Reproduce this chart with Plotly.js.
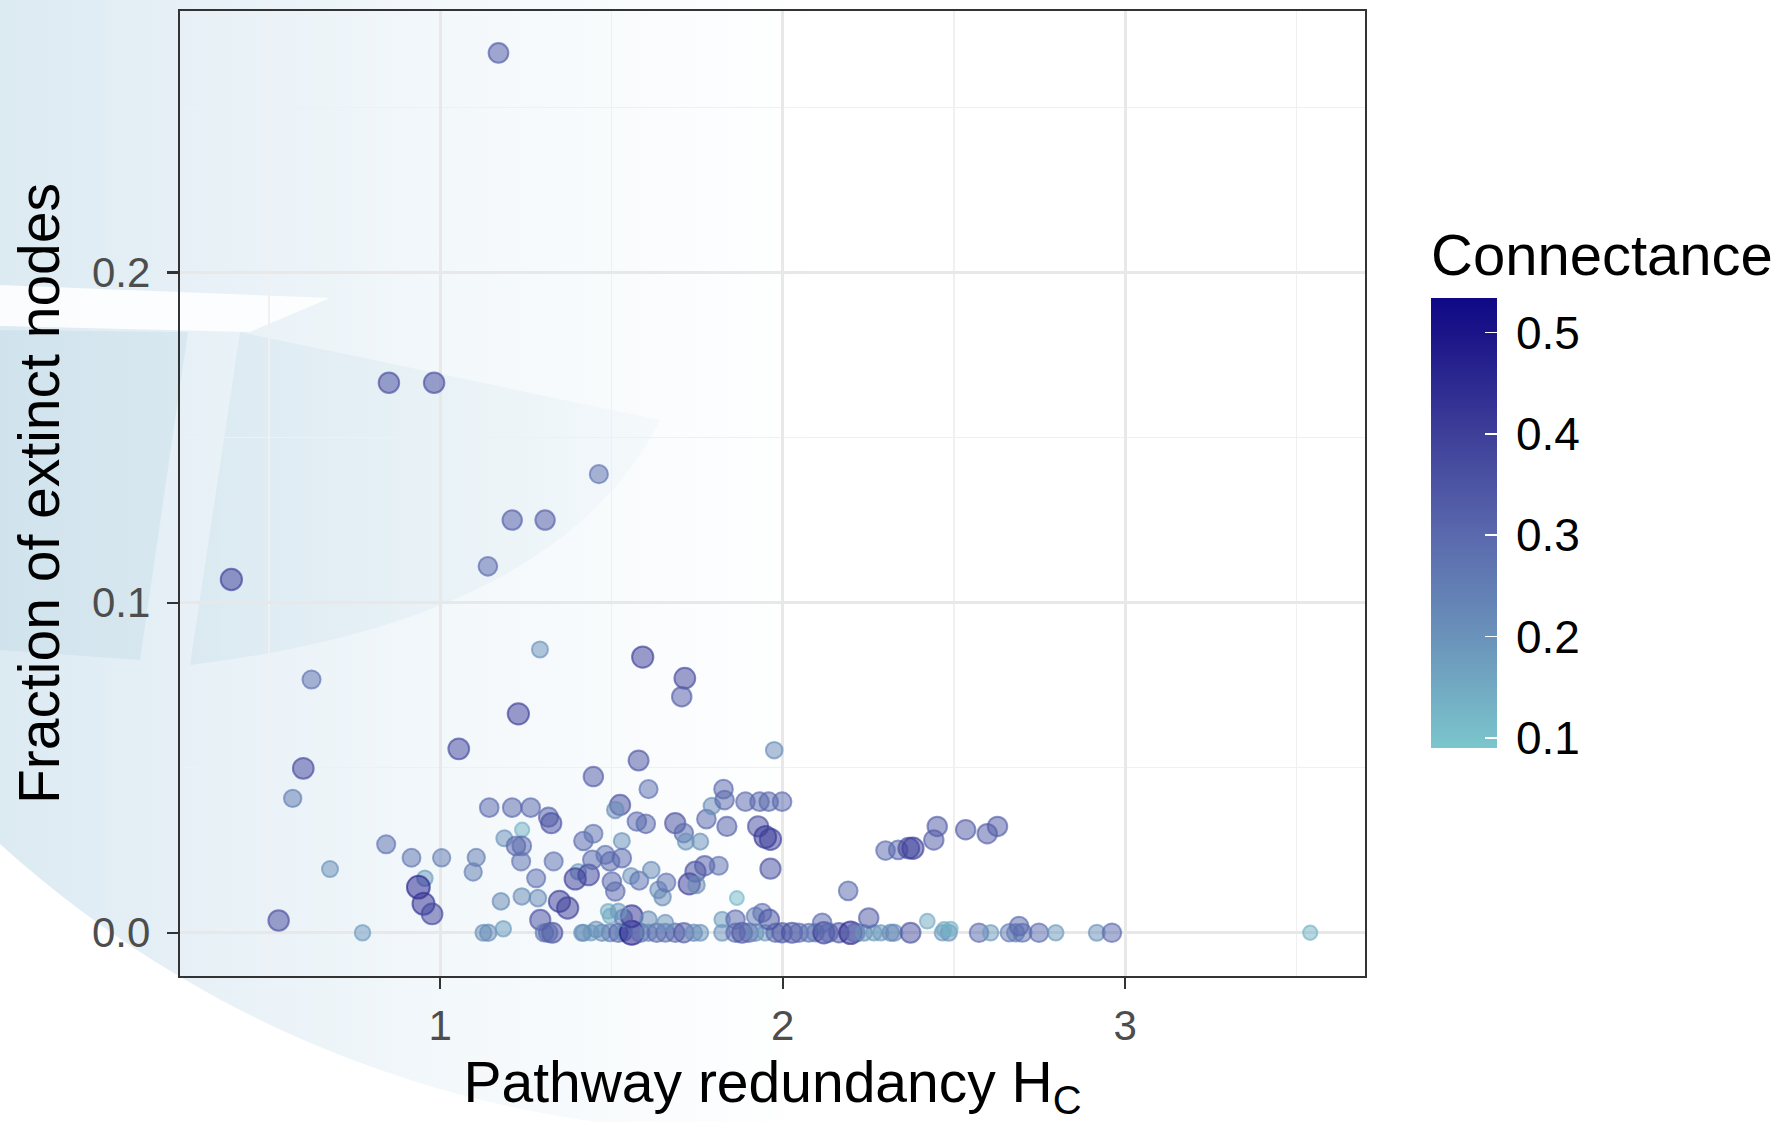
<!DOCTYPE html>
<html>
<head>
<meta charset="utf-8">
<script src="https://cdn.plot.ly/plotly-3.0.1.min.js"></script>
<style>
  html, body { margin:0; padding:0; background:#ffffff; }
  #wrap { position:relative; width:1789px; height:1122px; }
  #bg { position:absolute; left:0; top:0; z-index:0; }
  #chart { position:absolute; left:0; top:0; width:1789px; height:1122px; z-index:1; }
</style>
</head>
<body>
<div id="wrap">
<svg id="bg" width="1789" height="1122" xmlns="http://www.w3.org/2000/svg">
  <defs>
    <linearGradient id="g1" gradientUnits="userSpaceOnUse" x1="0" y1="0" x2="900" y2="0">
      <stop offset="0" stop-color="#DCEAF2"/>
      <stop offset="0.2" stop-color="#E6F0F6"/>
      <stop offset="0.5" stop-color="#F3F8FB"/>
      <stop offset="0.9" stop-color="#FFFFFF"/>
    </linearGradient>
    <linearGradient id="g2" gradientUnits="userSpaceOnUse" x1="0" y1="0" x2="720" y2="0">
      <stop offset="0" stop-color="#CFE2EC"/>
      <stop offset="0.3" stop-color="#D8E8F0"/>
      <stop offset="1" stop-color="#F6FAFC"/>
    </linearGradient>
    <clipPath id="disc"><circle cx="746" cy="22" r="1110"/></clipPath>
  </defs>
  <g clip-path="url(#disc)">
    <rect x="0" y="0" width="1789" height="1122" fill="url(#g1)"/>
    <polygon points="0,285 330,298 250,332 0,326" fill="#FFFFFF" opacity="0.85"/>
    <polygon points="0,330 188,332 140,660 0,650" fill="url(#g2)" opacity="0.9"/>
    <path d="M240,332 L660,420 Q560,620 190,665 Z" fill="url(#g2)" opacity="0.75"/>
  </g>
</svg>
<div id="chart"></div>
</div>
<script>
// Pathway redundancy H_C (x)
const hc = [
  1.170, 0.850, 0.982, 1.463, 1.210, 1.306, 1.139, 0.390, 1.291, 1.591,
  1.714, 1.705, 0.624, 1.228, 1.054, 1.975, 0.600, 0.569, 1.579, 1.447,
  1.608, 0.528, 0.773, 3.540, 0.678, 0.842, 0.916, 1.004, 0.955, 0.936,
  0.951, 0.976, 1.105, 1.096, 1.143, 1.210, 1.264, 1.316, 1.324, 1.187,
  1.239, 1.221, 1.238, 1.236, 1.331, 1.280, 1.403, 1.394, 1.433, 1.177,
  1.238, 1.285, 1.348, 1.372, 1.292, 1.126, 1.140, 1.184, 1.304, 1.327,
  1.315, 1.525, 1.511, 1.574, 1.600, 1.686, 1.711, 1.717, 1.759, 1.777,
  1.793, 1.827, 1.830, 1.837, 1.891, 1.932, 1.959, 1.998, 1.928, 1.949,
  1.964, 1.964, 1.418, 1.447, 1.530, 1.444, 1.482, 1.496, 1.530, 1.501,
  1.511, 1.557, 1.581, 1.616, 1.637, 1.649, 1.660, 1.727, 1.745, 1.772,
  1.813, 1.748, 1.866, 1.418, 1.472, 1.496, 1.520, 1.535, 1.559, 1.584,
  1.608, 1.632, 1.657, 1.686, 1.711, 1.740, 1.759, 1.823, 1.862, 1.881,
  1.901, 1.920, 1.949, 1.979, 1.998, 2.027, 2.047, 2.076, 1.496, 1.535,
  1.559, 1.608, 1.657, 1.823, 1.862, 1.920, 1.940, 1.960, 1.440, 1.455,
  2.095, 2.120, 2.134, 2.164, 2.198, 2.212, 2.237, 2.266, 2.286, 2.315,
  2.325, 2.373, 2.466, 2.485, 2.573, 2.607, 2.661, 2.680, 2.700, 2.748,
  2.797, 2.115, 2.251, 2.422, 2.471, 2.490, 2.690, 2.917, 2.961, 2.191,
  2.300, 2.337, 2.368, 2.380, 2.441, 2.451, 2.534, 2.597, 2.627, 1.414,
  1.490, 1.520
];
// Fraction of extinct nodes (y)
const frac = [
  0.2665, 0.1666, 0.1666, 0.1389, 0.1250, 0.1250, 0.1110, 0.1070, 0.0858, 0.0835,
  0.0771, 0.0715, 0.0767, 0.0663, 0.0557, 0.0553, 0.0498, 0.0407, 0.0522, 0.0473,
  0.0435, 0.0037, 0.0000, 0.0000, 0.0193, 0.0268, 0.0227, 0.0227, 0.0165, 0.0138,
  0.0088, 0.0057, 0.0228, 0.0184, 0.0379, 0.0379, 0.0379, 0.0350, 0.0332, 0.0286,
  0.0312, 0.0263, 0.0263, 0.0216, 0.0216, 0.0165, 0.0185, 0.0163, 0.0175, 0.0095,
  0.0110, 0.0105, 0.0095, 0.0075, 0.0039, 0.0000, 0.0000, 0.0012, 0.0000, 0.0000,
  0.0000, 0.0387, 0.0372, 0.0337, 0.0330, 0.0332, 0.0302, 0.0276, 0.0276, 0.0344,
  0.0384, 0.0435, 0.0402, 0.0322, 0.0397, 0.0397, 0.0397, 0.0397, 0.0322, 0.0290,
  0.0283, 0.0194, 0.0278, 0.0300, 0.0278, 0.0221, 0.0236, 0.0216, 0.0226, 0.0155,
  0.0125, 0.0172, 0.0158, 0.0190, 0.0130, 0.0108, 0.0152, 0.0148, 0.0185, 0.0203,
  0.0203, 0.0145, 0.0105, 0.0000, 0.0000, 0.0000, 0.0000, 0.0000, 0.0000, 0.0000,
  0.0000, 0.0000, 0.0000, 0.0000, 0.0000, 0.0000, 0.0000, 0.0000, 0.0000, 0.0000,
  0.0000, 0.0000, 0.0000, 0.0000, 0.0000, 0.0000, 0.0000, 0.0000, 0.0050, 0.0045,
  0.0050, 0.0040, 0.0030, 0.0040, 0.0040, 0.0050, 0.0060, 0.0040, 0.0000, 0.0010,
  0.0000, 0.0000, 0.0000, 0.0000, 0.0000, 0.0000, 0.0000, 0.0000, 0.0000, 0.0000,
  0.0000, 0.0000, 0.0000, 0.0000, 0.0000, 0.0000, 0.0000, 0.0000, 0.0000, 0.0000,
  0.0000, 0.0030, 0.0045, 0.0035, 0.0010, 0.0012, 0.0020, 0.0000, 0.0000, 0.0127,
  0.0249, 0.0251, 0.0256, 0.0256, 0.0281, 0.0322, 0.0312, 0.0300, 0.0322, 0.0000,
  0.0065, 0.0065
];
// Connectance (colour)
const conn = [
  0.34, 0.37, 0.37, 0.28, 0.33, 0.33, 0.30, 0.40, 0.20, 0.40,
  0.38, 0.33, 0.28, 0.40, 0.38, 0.22, 0.38, 0.25, 0.35, 0.33,
  0.28, 0.37, 0.18, 0.13, 0.20, 0.28, 0.27, 0.25, 0.18, 0.46,
  0.43, 0.38, 0.25, 0.25, 0.30, 0.30, 0.30, 0.32, 0.36, 0.20,
  0.13, 0.30, 0.30, 0.28, 0.28, 0.28, 0.18, 0.40, 0.38, 0.22,
  0.22, 0.22, 0.40, 0.40, 0.36, 0.20, 0.22, 0.18, 0.26, 0.36,
  0.30, 0.36, 0.22, 0.30, 0.30, 0.36, 0.30, 0.20, 0.20, 0.30,
  0.22, 0.30, 0.30, 0.32, 0.30, 0.30, 0.30, 0.30, 0.36, 0.42,
  0.40, 0.36, 0.30, 0.28, 0.20, 0.30, 0.28, 0.30, 0.30, 0.30,
  0.30, 0.20, 0.28, 0.22, 0.22, 0.22, 0.28, 0.40, 0.36, 0.33,
  0.28, 0.22, 0.12, 0.20, 0.22, 0.24, 0.30, 0.22, 0.50, 0.30,
  0.22, 0.30, 0.28, 0.30, 0.33, 0.22, 0.20, 0.20, 0.30, 0.35,
  0.30, 0.22, 0.18, 0.30, 0.33, 0.36, 0.30, 0.28, 0.15, 0.25,
  0.42, 0.22, 0.20, 0.18, 0.30, 0.25, 0.28, 0.35, 0.18, 0.20,
  0.25, 0.40, 0.30, 0.33, 0.45, 0.30, 0.20, 0.18, 0.18, 0.22,
  0.22, 0.35, 0.18, 0.20, 0.30, 0.18, 0.25, 0.25, 0.28, 0.30,
  0.18, 0.30, 0.33, 0.15, 0.15, 0.13, 0.30, 0.20, 0.30, 0.30,
  0.30, 0.30, 0.38, 0.40, 0.33, 0.33, 0.33, 0.33, 0.33, 0.20,
  0.15, 0.18
];
const xTickVals = [1, 2, 3];
const yTickVals = [0, 0.1, 0.2];
const cbTickVals = [0.1, 0.2, 0.3, 0.4, 0.5];

const cmin = 0.09, cmax = 0.534;
const stops = [[0, [123, 198, 204]], [0.2477, [106, 146, 186]], [0.473, [90, 105, 173]], [0.698, [62, 63, 153]], [0.923, [27, 20, 136]], [1, [15, 9, 135]]];
const scaleWith = a => stops.map(s => [s[0], 'rgba(' + s[1].join(',') + ',' + a + ')']);
const solidScale = scaleWith(1);
const fillScale = scaleWith(0.52);
const lineScale = scaleWith(0.65);
const sizes = conn.map(c => 14 + (c - 0.12) * 26);

const FONT = 'Liberation Sans, Arial, Helvetica, sans-serif';

const points = {
  type: 'scatter', mode: 'markers',
  x: hc, y: frac,
  marker: {
    color: conn, colorscale: fillScale, cmin: cmin, cmax: cmax,
    size: sizes, opacity: 1,
    line: { color: conn, colorscale: lineScale, cmin: cmin, cmax: cmax, width: 2 },
    showscale: false
  },
  hoverinfo: 'skip'
};

// Carries the colour bar only (opaque scale), drawing the same first point invisibly.
const legendBar = {
  type: 'scatter', mode: 'markers',
  x: [hc[0]], y: [frac[0]],
  marker: {
    color: [conn[0]], colorscale: solidScale, cmin: cmin, cmax: cmax,
    size: 1, opacity: 0,
    showscale: true,
    colorbar: {
      x: (1431 - 180) / 1185, xanchor: 'left',
      y: (976 - 748) / 965, yanchor: 'bottom',
      len: 520 / 965, lenmode: 'fraction',
      thickness: 66, thicknessmode: 'pixels',
      xpad: 0, ypad: 0, outlinewidth: 0,
      tickmode: 'array', tickvals: cbTickVals, ticktext: cbTickVals.map(v => '\u2009' + v.toFixed(1)),
      ticks: 'inside', ticklen: 12, tickwidth: 1.5, tickcolor: '#FFFFFF',
      tickfont: { family: FONT, size: 46, color: '#000000' },
      title: { text: 'Connectance', side: 'top', font: { family: FONT, size: 58, color: '#000000' } }
    }
  },
  hoverinfo: 'skip'
};

const layout = {
  width: 1789, height: 1122,
  margin: { l: 180, r: 424, t: 11, b: 146, pad: 0 },
  paper_bgcolor: 'rgba(0,0,0,0)', plot_bgcolor: 'rgba(0,0,0,0)',
  font: { family: FONT },
  showlegend: false,
  xaxis: {
    range: [0.24, 3.7], tickmode: 'array', tickvals: xTickVals, ticktext: xTickVals.map(String),
    ticks: 'outside', ticklen: 11, tickwidth: 2.2, tickcolor: '#333333',
    showline: true, mirror: true, linecolor: '#333333', linewidth: 2.2,
    showgrid: true, gridcolor: '#E8E8E8', gridwidth: 3, zeroline: false,
    minor: { tickmode: 'linear', tick0: 0, dtick: 0.5, showgrid: true, gridcolor: '#F0F0F0', gridwidth: 1.5, ticks: '' },
    tickfont: { family: FONT, size: 42, color: '#4D4D4D' },
    ticklabelstandoff: 0,
    title: { text: 'Pathway redundancy H<sub>C</sub>', font: { family: FONT, size: 57, color: '#000000' }, standoff: 32 },
    automargin: false
  },
  yaxis: {
    range: [-0.0131, 0.2792], tickmode: 'array', tickvals: yTickVals, ticktext: yTickVals.map(v => v.toFixed(1)),
    ticks: 'outside', ticklen: 11, tickwidth: 2.2, tickcolor: '#333333',
    showline: true, mirror: true, linecolor: '#333333', linewidth: 2.2,
    showgrid: true, gridcolor: '#E8E8E8', gridwidth: 3, zeroline: false,
    minor: { tickmode: 'linear', tick0: 0, dtick: 0.05, showgrid: true, gridcolor: '#F0F0F0', gridwidth: 1.5, ticks: '' },
    tickfont: { family: FONT, size: 42, color: '#4D4D4D' },
    ticklabelstandoff: 8,
    title: { text: 'Fraction of extinct nodes', font: { family: FONT, size: 57, color: '#000000' }, standoff: 14 },
    automargin: false
  }
};

Plotly.newPlot('chart', [points, legendBar], layout, { staticPlot: true, displayModeBar: false });
</script>
</body>
</html>
